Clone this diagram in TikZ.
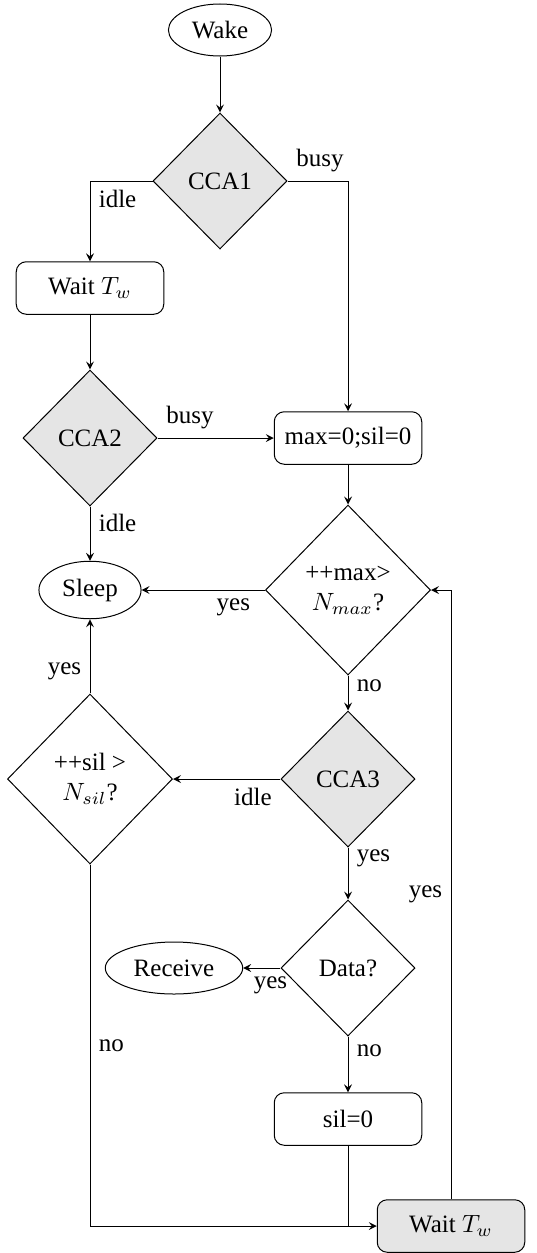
\documentclass[tikz,border=0pt]{standalone}
\usepackage{fontspec}
\setmainfont{Liberation Serif}
\usetikzlibrary{shapes.geometric}

\begin{document}
\begin{tikzpicture}[>=stealth, x=0.4pt, y=-0.4pt,
    term/.style={draw, ellipse, minimum height=20.8pt},
    stepbox/.style={draw, rectangle, rounded corners,
                    minimum width=59pt, minimum height=21pt},
    test/.style={draw, diamond, inner sep=1pt,
                 minimum width=53.6pt, minimum height=54.4pt},
    cca/.style={test, fill=gray!20},
    bigtest/.style={draw, diamond, align=center, inner sep=1pt,
                    minimum width=66pt, minimum height=68pt}]

  \useasboundingbox (0,0) rectangle (536,1253);

  % ── wake up and first channel checks ─────────────────────────────────────

  \node[term] (wake) at (220,30) {Wake};
  \node[cca] (cca1) at (220,181) {CCA1};
  \node[stepbox] (wait1) at (90,288) {Wait $T_w$};
  \node[cca] (cca2) at (90,438) {CCA2};
  \node[stepbox] (init) at (348,438) {max=0;sil=0};
  \node[term, minimum height=23pt] (sleep) at (90,590) {Sleep};

  \draw[->] (wake) -- (cca1);
  \draw[->] (cca1.west) -| node[pos=0.5, below right] {idle} (wait1.north);
  \draw[->] (cca1.east) -| node[pos=0, above right] {busy} (init.north);
  \draw[->] (wait1) -- (cca2);
  \draw[->] (cca2.east) -- node[pos=0, above right] {busy} (init.west);
  \draw[->] (cca2) -- node[pos=0.3, right] {idle} (sleep);

  % ── listening loop ───────────────────────────────────────────────────────

  \node[bigtest] (maxdec) at (348,590) {++max>\\$N_{max}$?};
  \node[cca] (cca3) at (348,779) {CCA3};
  \node[bigtest] (sildec) at (90,779) {++sil >\\$N_{sil}$?};
  \node[test] (data) at (348,968) {Data?};
  \node[term] (recv) at (174,968) {Receive};
  \node[stepbox] (silzero) at (348,1119) {sil=0};
  \node[stepbox, fill=gray!20] (wait2) at (451,1226) {Wait $T_w$};

  \draw[->] (init) -- (maxdec);
  \draw[->] (maxdec) -- node[pos=0.05, below left] {yes} (sleep);
  \draw[->] (maxdec) -- node[pos=0.3, right] {no} (cca3);
  \draw[->] (cca3) -- node[pos=0, below left] {idle} (sildec);
  \draw[->] (sildec) -- node[pos=0.3, left] {yes} (sleep);
  \draw[->] (cca3) -- node[pos=0.2, right] {yes} (data);
  \draw[->] (data) -- node[pos=0.27, below] {yes} (recv);
  \draw[->] (data) -- node[pos=0.25, right] {no} (silzero);
  \draw[->] (sildec.south) |- node[pos=0.25, right] {no} (wait2.west);

  \coordinate (merge) at (silzero.south |- wait2.west);
  \draw (silzero.south) -- (merge);

  \draw[->] (wait2.north) |- node[pos=0.25, left] {yes} (maxdec.east);

\end{tikzpicture}
\end{document}
